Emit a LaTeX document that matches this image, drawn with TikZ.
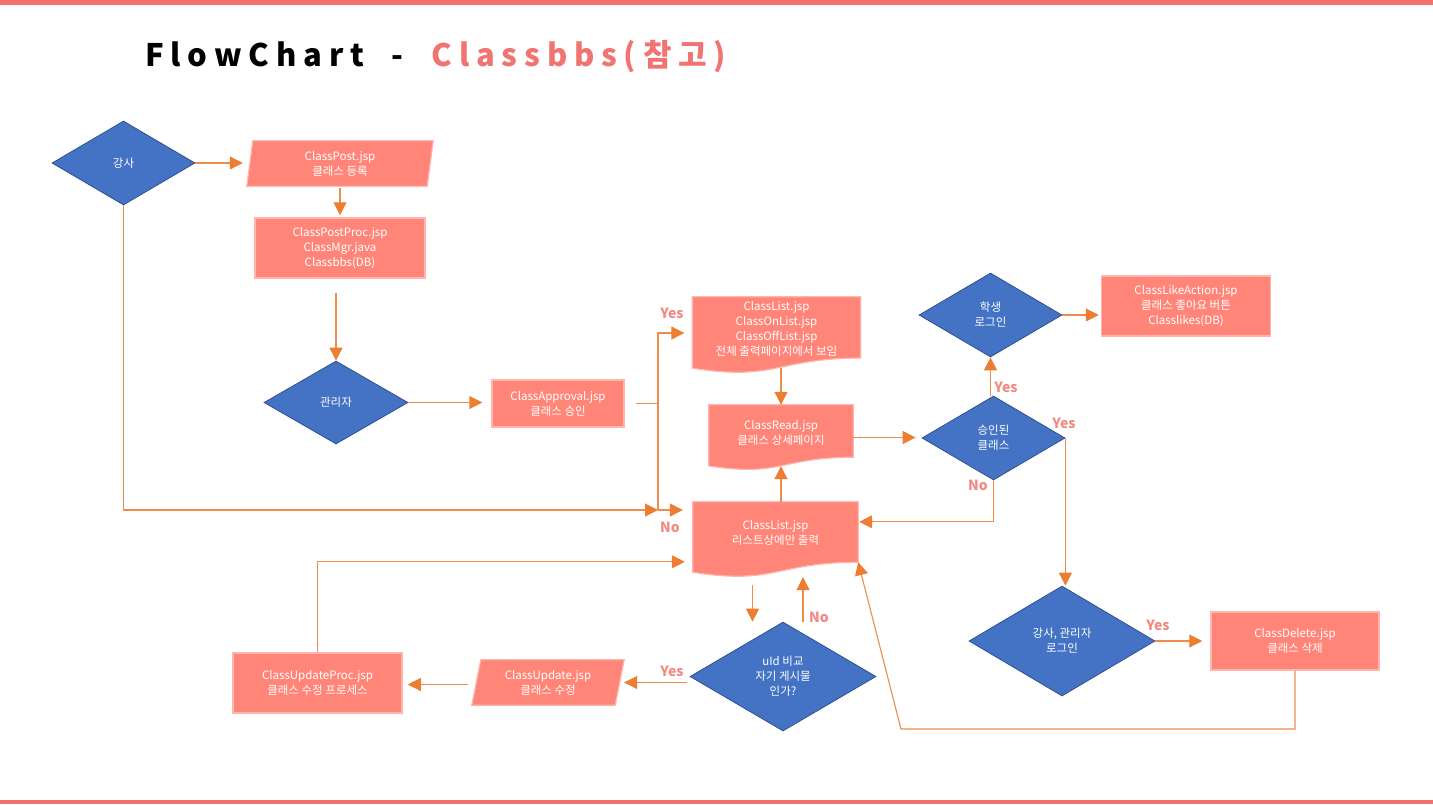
\documentclass[tikz,border=0pt]{standalone}
\usepackage{fontspec}
\setmainfont{Noto Sans CJK KR}
\newfontfamily\ttlfont[LetterSpace=22]{Noto Sans CJK KR}
\usetikzlibrary{shapes.geometric,arrows.meta,backgrounds,calc}
\definecolor{dblue}{HTML}{4472C4}
\definecolor{dblueb}{HTML}{2F528F}
\definecolor{salm}{HTML}{FF8578}
\definecolor{salmb}{HTML}{FFB4AC}
\definecolor{lor}{HTML}{EE8C4C}
\definecolor{tor}{HTML}{ED7D31}
\definecolor{lbl}{HTML}{F08A82}
\definecolor{bar}{HTML}{F2716F}
\definecolor{ttl}{HTML}{F07572}
\newcommand\mypara[2]{\filldraw[fill=salm, draw=salmb, line width=1.2pt] ([xshift=#2pt]#1.north west) -- (#1.north east) -- ([xshift=-#2pt]#1.south east) -- (#1.south west) -- cycle;}
\newcommand\mydoc[1]{\filldraw[fill=salm, draw=salmb, line width=1.2pt] (#1.north west) -- (#1.north east) -- ($(#1.north east)!0.802!(#1.south east)$) .. controls ($(#1.north)!0.802!(#1.south)$) and ($(#1.north)!1.107!(#1.south)$) .. ($(#1.north west)!0.934!(#1.south west)$) -- cycle;}
\tikzset{
 txtfont/.style={font=\fontsize{11.5}{15}\selectfont},
 dia/.style={diamond, fill=dblue, draw=dblueb, line width=0.8pt, inner sep=0pt, text=white, txtfont, align=center},
 box/.style={rectangle, fill=salm, draw=salmb, line width=1.5pt, inner sep=0pt, text=white, txtfont, align=center},
 shp/.style={rectangle, draw=none, inner sep=0pt, text=white, txtfont, align=center},
 conn/.style={draw=lor, line width=1.1pt},
 arr/.style={conn, -{Triangle[length=13pt,width=13pt,color=tor]}},
 lab/.style={text=lbl, font=\bfseries\fontsize{14}{16}\selectfont, inner sep=0pt},
}
\begin{document}
\begin{tikzpicture}[x=1pt,y=-1pt]
\path[use as bounding box] (0,0) rectangle (1433,804);
\fill[bar] (0,0) rectangle (1433,5);
\fill[bar] (0,800) rectangle (1433,804);
\node[anchor=base west, inner sep=0pt, font=\ttlfont\bfseries\fontsize{31}{36}\selectfont] (title) at (145,66) {FlowChart\ \ -\ \ \textcolor{ttl}{Classbbs(참고)}};

% nodes
\node[dia, minimum width=143, minimum height=84] (gangsa) at (123.5,163) {강사};
\node[shp, minimum width=186, minimum height=45] (post) at (340,163.5) {ClassPost.jsp\\클래스 등록};
\node[box, minimum width=170, minimum height=60] (postproc) at (340,248) {ClassPostProc.jsp\\ClassMgr.java\\Classbbs(DB)};
\node[dia, minimum width=144, minimum height=83] (admin) at (336,402.5) {관리자};
\node[box, minimum width=132, minimum height=47] (approval) at (558,403.5) {ClassApproval.jsp\\클래스 승인};
\coordinate (split) at (658,403.5);
\coordinate (nojoin) at (658,510);
\node[shp, minimum width=168, minimum height=76] (listall) at (776.5,335) {};
\node[shp] (listall-t) at (776.5,329) {ClassList.jsp\\ClassOnList.jsp\\ClassOffList.jsp\\전체 출력페이지에서 보임};
\node[shp, minimum width=144, minimum height=65] (read) at (781,437.5) {};
\node[shp] (read-t) at (781,432.5) {ClassRead.jsp\\클래스 상세페이지};
\node[shp, minimum width=165, minimum height=75] (listpart) at (775.5,539.5) {};
\node[shp] (listpart-t) at (775.5,533) {ClassList.jsp\\리스트상에만 출력};
\node[dia, minimum width=143, minimum height=84] (student) at (990.5,315) {학생\\로그인};
\node[box, minimum width=169, minimum height=60] (like) at (1186,306) {ClassLikeAction.jsp\\클래스 좋아요 버튼\\Classlikes(DB)};
\node[dia, minimum width=143, minimum height=84] (approved) at (993.5,438) {승인된\\클래스};
\node[dia, minimum width=186, minimum height=110] (deleter) at (1062,641) {강사, 관리자\\로그인};
\node[box, minimum width=168, minimum height=58] (delete) at (1295,641) {ClassDelete.jsp\\클래스 삭제};
\node[dia, minimum width=186, minimum height=109] (uid) at (783,676.5) {uId 비교\\자기 게시물\\인가?};
\node[shp, minimum width=152, minimum height=45] (update) at (548,682.5) {ClassUpdate.jsp\\클래스 수정};
\node[box, minimum width=169, minimum height=60] (updproc) at (317.5,683) {ClassUpdateProc.jsp\\클래스 수정 프로세스};

\begin{scope}[on background layer]
\mypara{post}{6}
\mypara{update}{9}
\mydoc{listall}
\mydoc{read}
\mydoc{listpart}
\end{scope}

% connectors
\draw[arr, shorten >=4pt] (gangsa.east) -- (gangsa.east -| post.west);
\draw[arr, shorten <=2pt, shorten >=2pt] (post.south) -- (postproc.north);
\coordinate (pp) at ([yshift=-14pt]postproc.south);
\draw[arr] (pp -| admin.north) -- (admin.north);
\draw[arr, shorten >=9pt] (admin.east) -- (admin.east -| approval.west);
\draw[conn] ([xshift=11pt]approval.east) -- (split);
\coordinate (ya) at ([yshift=2pt]listall.west);
\draw[arr, shorten >=8pt] (split) |- (ya);
\draw[conn] (split) -- (nojoin);
\draw[arr, shorten >=10pt] (nojoin) -- (nojoin -| listpart.west);
\draw[arr] (gangsa.south) |- (nojoin);
\coordinate (la1) at ([yshift=5pt]listall.south);
\draw[arr] (la1 -| read.north) -- (read.north);
\coordinate (rd1) at ([yshift=4pt]read.south);
\draw[arr] (listpart.north -| rd1) -- (rd1);
\draw[arr, shorten >=6pt] (read.east) -- (read.east -| approved.west);
\draw[arr] (approved.north -| student.south) -- (student.south);
\draw[arr, shorten >=2pt] (student.east) -- (student.east -| like.west);
\coordinate (lp1) at ([yshift=-20pt]listpart.north east);
\draw[arr, shorten >=1pt] (approved.south) |- (lp1);
\draw[arr] (approved.east) -- (approved.east |- deleter.north);
\draw[arr, shorten >=8pt] (deleter.east) -- (deleter.east -| delete.west);
\coordinate (corner) at (901,729);
\coordinate (lp2) at ([yshift=15pt]listpart.south east);
\draw[arr] (delete.south) |- (corner) -- (lp2);
\coordinate (d0) at ([xshift=-23pt,yshift=-8pt]listpart.south);
\draw[arr] (d0) -- (d0 |- uid.north);
\coordinate (noS) at ([xshift=20pt]uid.north);
\draw[arr] (noS) -- (noS |- listpart.south);
\coordinate (u1) at (uid.west |- update.east);
\draw[arr, shorten <=3pt] (u1) -- (update.east);
\coordinate (u2) at ([xshift=-4pt,yshift=-2pt]update.west);
\draw[arr, shorten >=5pt] (u2) -- (u2 -| updproc.east);
\coordinate (u3) at ([xshift=-8pt,yshift=-60pt]listpart.north west);
\draw[arr] (updproc.north) |- (u3);

% labels
\node[lab] (l1) at (672,313) {Yes};
\node[lab] (l2) at (670,527) {No};
\node[lab] (l3) at (1006,387) {Yes};
\node[lab] (l4) at (978,485) {No};
\node[lab] (l5) at (1064,423) {Yes};
\node[lab] (l6) at (1158,625) {Yes};
\node[lab] (l7) at (819,617) {No};
\node[lab] (l8) at (672,671) {Yes};
\end{tikzpicture}
\end{document}
